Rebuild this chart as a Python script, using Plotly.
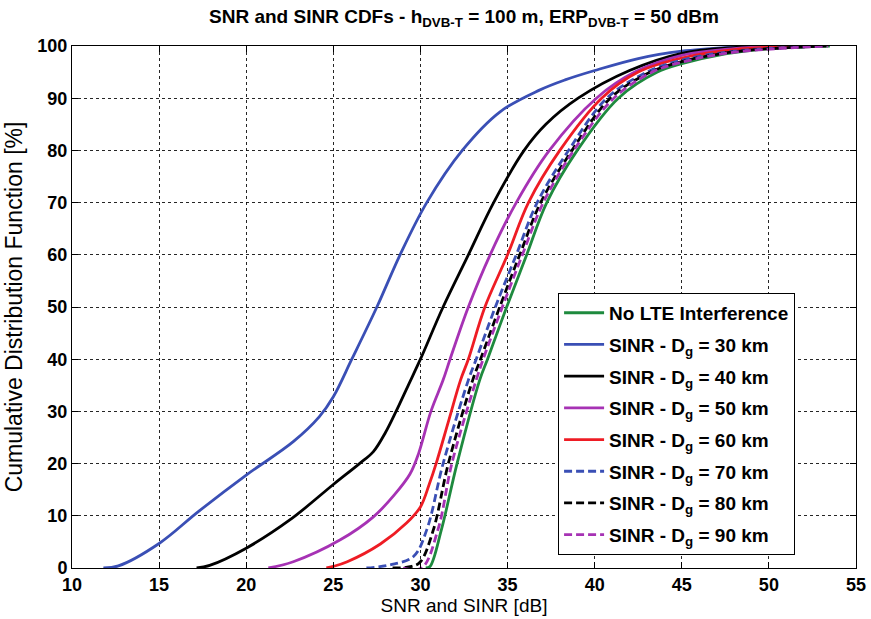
import plotly.graph_objects as go

# ---- data (x = SNR/SINR in dB, y = CDF in %) ----
names = [
    "No LTE Interference",
    "SINR - D<sub>g</sub> = 30 km",
    "SINR - D<sub>g</sub> = 40 km",
    "SINR - D<sub>g</sub> = 50 km",
    "SINR - D<sub>g</sub> = 60 km",
    "SINR - D<sub>g</sub> = 70 km",
    "SINR - D<sub>g</sub> = 80 km",
    "SINR - D<sub>g</sub> = 90 km",
]

no_lte_x = [30.3, 30.55, 31.2, 32.1, 33.4, 33.85, 34.95, 36.1, 37.25, 39.0, 41.36, 43.6, 45.0, 47.5, 50.0, 53.5]
no_lte_y = [0, 0.3, 7.3, 20, 36, 40, 50, 60, 70, 80, 90, 95, 96.6, 98.5, 99.5, 100]

d30_x = [11.8, 12.66, 15.0, 17.25, 20.0, 22.7, 24.2, 25.0, 26.06, 27.5, 28.83, 30.36, 32.4, 34.57, 36.8, 38.3, 40.0, 42.5, 45.0, 48.0, 49.5]
d30_y = [0, 0.4, 4.7, 10.8, 17.8, 24.2, 29, 32.8, 40, 50, 60, 70, 80, 87.4, 91.5, 93.5, 95.3, 97.6, 99.0, 99.8, 100]

d40_x = [17.15, 17.9, 20.0, 22.5, 25.0, 26.5, 27.3, 28.0, 28.6, 29.3, 30.0, 31.3, 32.75, 34.2, 35.95, 37.2, 39.05, 42.0, 45.0, 48.0, 50.0]
d40_y = [0, 0.5, 3.8, 9.2, 16, 20, 22.3, 26, 30, 35, 40, 50, 60, 70, 80, 85, 90, 95.3, 98.6, 99.7, 100]

d50_x = [21.27, 22.7, 25.4, 27.3, 28.5, 29.4, 29.9, 30.6, 31.3, 31.7, 32.75, 34.0, 35.5, 37.4, 40.1, 42.3, 45.0, 48.0, 51.0]
d50_y = [0, 1.2, 5.4, 9.8, 14, 18, 22, 30, 36, 40, 50, 60, 70, 80, 90, 95, 98.2, 99.5, 100]

d60_x = [24.6, 25.0, 25.8, 27.7, 29.2, 30.0, 30.5, 30.9, 31.6, 32.3, 32.75, 33.7, 35.0, 36.2, 38.0, 40.4, 42.5, 45.0, 48.0, 52.0]
d60_y = [0, 0.3, 1.2, 4.6, 8.6, 11.7, 16, 20, 28, 36, 40, 50, 60, 70, 80, 90, 95, 97.7, 99.3, 100]

d70_x = [26.9, 28.25, 29.6, 30.36, 31.3, 32.75, 33.2, 34.3, 35.5, 36.7, 38.5, 40.7, 43.0, 45.0, 48.0, 53.0]
d70_y = [0, 0.6, 2.2, 7.3, 20, 36, 40, 50, 60, 70, 80, 90, 95, 97.3, 99.0, 100]

d80_x = [28.4, 29.5, 30.0, 30.74, 31.6, 33.0, 33.45, 34.55, 35.7, 36.9, 38.7, 40.9, 43.2, 45.0, 48.0, 53.3]
d80_y = [0, 0.3, 1.2, 7.3, 20, 36, 40, 50, 60, 70, 80, 90, 95, 97.0, 98.9, 100]

d90_x = [29.0, 30.07, 31.0, 31.8, 33.2, 33.6, 34.7, 35.85, 37.05, 38.8, 41.1, 43.3, 45.0, 48.0, 53.4]
d90_y = [0, 0, 7.3, 20, 36, 40, 50, 60, 70, 80, 90, 95, 96.9, 98.8, 100]

series_x = [no_lte_x, d30_x, d40_x, d50_x, d60_x, d70_x, d80_x, d90_x]
series_y = [no_lte_y, d30_y, d40_y, d50_y, d60_y, d70_y, d80_y, d90_y]
colors = ["#1e8a3e", "#3a4fb5", "#000000", "#a632b4", "#ee1c24", "#3a4fb5", "#000000", "#a632b4"]
dashes = ["solid", "solid", "solid", "solid", "solid", "8px,4px", "8px,4px", "8px,4px"]

x_ticks = list(range(10, 56, 5))
y_ticks = list(range(0, 101, 10))

fig = go.Figure()
for i in range(len(names)):
    fig.add_trace(go.Scatter(
        x=series_x[i], y=series_y[i], mode="lines", name=names[i],
        legendgroup=f"g{i}",
        line=dict(color=colors[i], width=2.8, dash=dashes[i], shape="spline", smoothing=1.0),
    ))

font_family = "Liberation Sans, Arial, sans-serif"
axis_common = dict(
    showline=True, linecolor="black", linewidth=1, mirror="allticks",
    ticks="inside", ticklen=6, tickcolor="black",
    showgrid=True, gridcolor="rgba(0,0,0,0.85)", griddash="3px,3px", gridwidth=1,
    zeroline=False, automargin=False,
    tickfont=dict(family=font_family, size=18, color="black", weight="bold"),
)

fig.update_layout(
    width=871, height=619,
    margin=dict(l=72, r=15, t=46, b=51),
    paper_bgcolor="white", plot_bgcolor="white",
    title=dict(
        text="<b>SNR and SINR CDFs - h<sub>DVB-T</sub> = 100 m, ERP<sub>DVB-T</sub> = 50 dBm</b>",
        x=0.5, xref="paper", xanchor="center", y=0.985, yref="container", yanchor="top",
        font=dict(family=font_family, size=19, color="black"),
    ),
    xaxis=dict(range=[10, 55], tickvals=x_ticks,
               title=dict(text="SNR and SINR [dB]", standoff=4,
                          font=dict(family=font_family, size=19, color="black")),
               **axis_common),
    yaxis=dict(range=[0, 100], tickvals=y_ticks,
               title=dict(text="Cumulative Distribution Function [%]", standoff=8,
                          font=dict(family=font_family, size=23, color="black")),
               **axis_common),
    legend=dict(
        x=0.62, y=0.527, xanchor="left", yanchor="top",
        bgcolor="white", bordercolor="black", borderwidth=1,
        font=dict(family=font_family, size=19, color="black", weight="bold"),
        tracegroupgap=4, itemwidth=40,
    ),
    showlegend=True,
)

fig.write_html("out.html")
